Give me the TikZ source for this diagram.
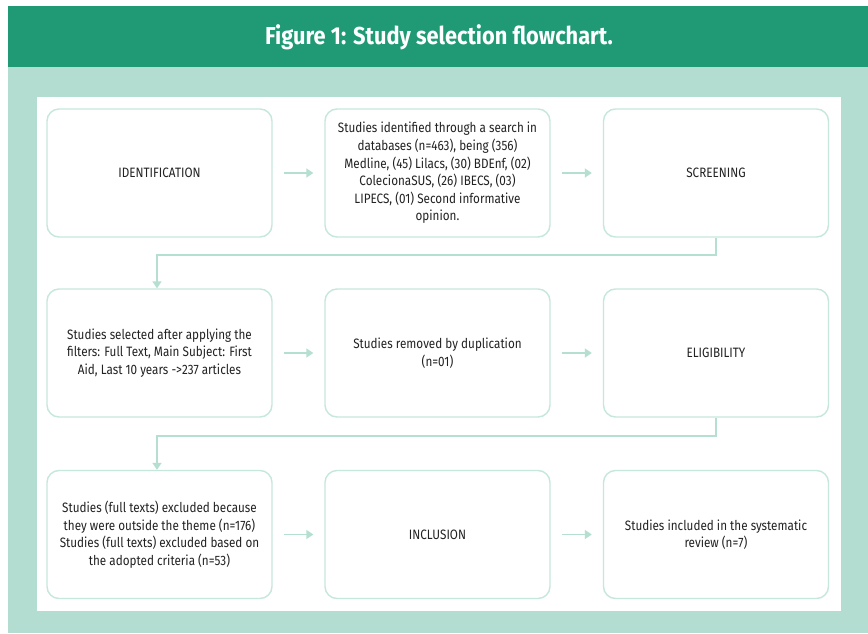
\documentclass[tikz,border=0pt]{standalone}
\usepackage{fontspec}
\setmainfont{Fira Sans}
\newfontfamily\headfont{Fira Sans}[FakeStretch=0.89]
\newfontfamily\bodyfont{Fira Sans}[FakeStretch=0.86]
\usetikzlibrary{arrows.meta}
\definecolor{hdgreen}{HTML}{1F9A74}
\definecolor{bggreen}{HTML}{B2DDD0}
\definecolor{boxline}{HTML}{C6E7DB}
\definecolor{arrcol}{HTML}{B5DFD1}
\definecolor{txt}{HTML}{222222}
\tikzset{
  stagebox/.style={draw=boxline, line width=1.4pt, rounded corners=12pt, fill=white,
    minimum width=225pt, minimum height=128pt, inner sep=0pt,
    align=center, text=txt, font=\bodyfont\fontsize{13.6}{17.6}\selectfont},
  flowarrow/.style={draw=arrcol, line width=1.6pt, -{Triangle[length=7pt,width=9pt]}},
}
\begin{document}
\begin{tikzpicture}[x=1pt,y=-1pt]
\useasboundingbox (0,0) rectangle (868,634);
\fill[white] (0,0) rectangle (868,634);
\fill[bggreen] (8,67) rectangle (868,633);
\fill[hdgreen] (8,6) rectangle (868,67);
\node[text=white, font=\headfont\bfseries\fontsize{24.5}{28}\selectfont] (title) at (439,37) {Figure 1: Study selection flowchart.};
\fill[white] (37,97) rectangle (841,611);

\node[stagebox] (a1) at (159.5,173) {IDENTIFICATION};
\node[stagebox] (a2) at (437.5,173) {Studies identified through a search in\\databases (n=463), being (356)\\Medline, (45) Lilacs, (30) BDEnf, (02)\\ColecionaSUS, (26) IBECS, (03)\\LIPECS, (01) Second informative\\opinion.};
\node[stagebox] (a3) at (716,173) {SCREENING};

\node[stagebox] (b1) at (159.5,353) {Studies selected after applying the\\filters: Full Text, Main Subject: First\\Aid, Last 10 years ->237 articles};
\node[stagebox] (b2) at (437.5,353) {Studies removed by duplication\\(n=01)};
\node[stagebox] (b3) at (716,353) {ELIGIBILITY};

\node[stagebox] (c1) at (159.5,534.5) {Studies (full texts) excluded because\\they were outside the theme (n=176)\\Studies (full texts) excluded based on\\the adopted criteria (n=53)};
\node[stagebox] (c2) at (437.5,534.5) {INCLUSION};
\node[stagebox] (c3) at (716,534.5) {Studies included in the systematic\\review (n=7)};

\foreach \p/\q in {a1/a2,a2/a3,b1/b2,b2/b3,c1/c2,c2/c3}{
  \draw[flowarrow, shorten <=11pt, shorten >=11pt] (\p.east) -- (\q.west);
}
\draw[flowarrow] (a3.south) -- ++(0,17.5) -| ([xshift=-2.5pt]b1.north);
\draw[flowarrow] (b3.south) -- ++(0,18) -| ([xshift=-2.5pt]c1.north);
\end{tikzpicture}
\end{document}
